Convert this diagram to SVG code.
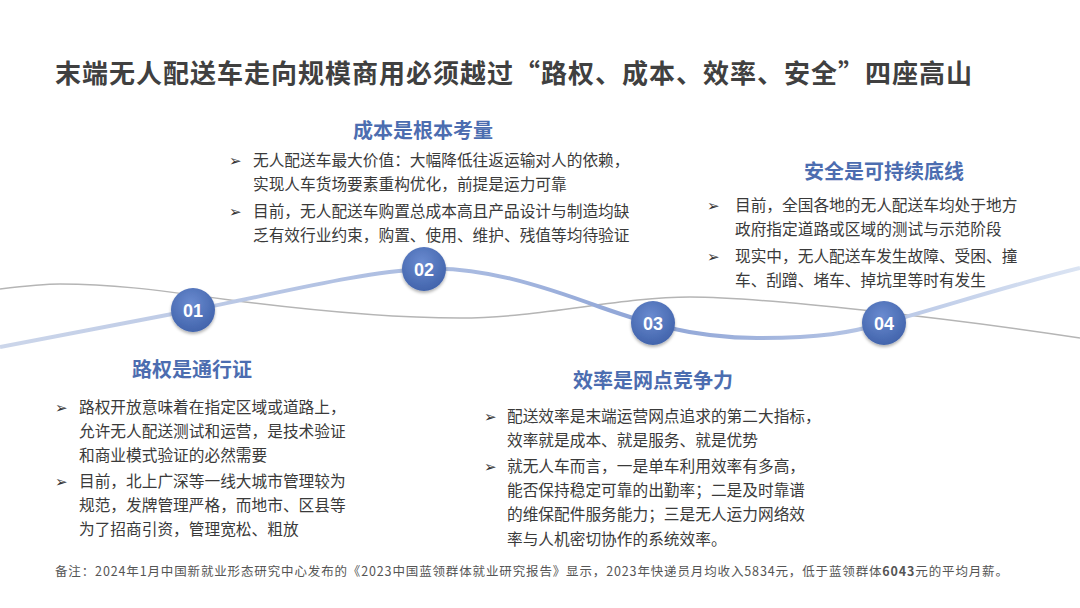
<svg xmlns="http://www.w3.org/2000/svg" width="1080" height="608" viewBox="0 0 1080 608">
<defs>
<style>
.title{font-family:"Noto Sans CJK SC","Liberation Sans",sans-serif;font-weight:bold;font-size:26px;fill:#404040}
.head{font-family:"Noto Sans CJK SC","Liberation Sans",sans-serif;font-weight:bold;font-size:20px;fill:#4c6db0;text-anchor:middle}
.body{font-family:"Noto Sans CJK SC","Liberation Sans",sans-serif;font-size:15.7px;fill:#3a3a3a}
.bul{font-family:"DejaVu Sans",sans-serif;font-size:15px;fill:#333}
.num{font-family:"Liberation Sans",Arial,sans-serif;font-weight:bold;font-size:18px;fill:#ffffff;text-anchor:middle}
.note{font-family:"Noto Sans CJK SC","Liberation Sans",sans-serif;font-size:12.5px;fill:#555555}
.circ{fill:url(#cg);filter:url(#sh)}
</style>
<radialGradient id="cg" cx="0.45" cy="0.35" r="0.7">
<stop offset="0" stop-color="#6a8bd0"/>
<stop offset="1" stop-color="#3f61a9"/>
</radialGradient>
<linearGradient id="wg" x1="0" y1="0" x2="1080" y2="0" gradientUnits="userSpaceOnUse">
<stop offset="0" stop-color="#ccd6ea"/>
<stop offset="0.45" stop-color="#a7b9e0"/>
<stop offset="0.6" stop-color="#8ea4d6"/>
<stop offset="1" stop-color="#dbe4f3"/>
</linearGradient>
<filter id="sh" x="-30%" y="-30%" width="160%" height="170%">
<feDropShadow dx="0" dy="2" stdDeviation="1.5" flood-color="#000" flood-opacity="0.3"/>
</filter>
</defs>
<rect width="1080" height="608" fill="#ffffff"/>
<text class="title" x="55" y="83" textLength="917" lengthAdjust="spacing">末端无人配送车走向规模商用必须越过“路权、成本、效率、安全”四座高山</text>

<g id="connectors">
<path d="M0,289 C25,286 45,284 60,284 C110,284 150,289 230,300 C300,309 380,318 460,318 C540,318 620,297 690,297 C760,297 950,318 1080,338" fill="none" stroke="#b5b5b5" stroke-width="1.5"/>
<path d="M0,347 C70,333 140,320 193,310 C280,293 360,272 424,269 C480,266 540,285 600,307 C640,321 690,338 757,338 C820,338 850,333 884,323 C950,305 1010,285 1080,268" fill="none" stroke="url(#wg)" stroke-width="4"/>
</g>

<g id="node01">
<circle class="circ" cx="193" cy="310" r="22"/>
<text class="num" x="193" y="316.5">01</text>
<text class="head" x="192" y="377">路权是通行证</text>
<text class="bul" x="55" y="413">➢</text>
<text class="body" x="79" y="413">路权开放意味着在指定区域或道路上，</text>
<text class="body" x="79" y="437">允许无人配送测试和运营，是技术验证</text>
<text class="body" x="79" y="461">和商业模式验证的必然需要</text>
<text class="bul" x="55" y="487">➢</text>
<text class="body" x="79" y="487">目前，北上广深等一线大城市管理较为</text>
<text class="body" x="79" y="511">规范，发牌管理严格，而地市、区县等</text>
<text class="body" x="79" y="535">为了招商引资，管理宽松、粗放</text>
</g>

<g id="node02">
<circle class="circ" cx="424" cy="269" r="22"/>
<text class="num" x="424" y="275.5">02</text>
<text class="head" x="423" y="138">成本是根本考量</text>
<text class="bul" x="229" y="166">➢</text>
<text class="body" x="253" y="166">无人配送车最大价值：大幅降低往返运输对人的依赖，</text>
<text class="body" x="253" y="190">实现人车货场要素重构优化，前提是运力可靠</text>
<text class="bul" x="229" y="217">➢</text>
<text class="body" x="253" y="217">目前，无人配送车购置总成本高且产品设计与制造均缺</text>
<text class="body" x="253" y="241">乏有效行业约束，购置、使用、维护、残值等均待验证</text>
</g>

<g id="node03">
<circle class="circ" cx="653" cy="323" r="22"/>
<text class="num" x="653" y="329.5">03</text>
<text class="head" x="653" y="388">效率是网点竞争力</text>
<text class="bul" x="484" y="422">➢</text>
<text class="body" x="507" y="422">配送效率是末端运营网点追求的第二大指标，</text>
<text class="body" x="507" y="446">效率就是成本、就是服务、就是优势</text>
<text class="bul" x="484" y="472">➢</text>
<text class="body" x="507" y="472">就无人车而言，一是单车利用效率有多高，</text>
<text class="body" x="507" y="496">能否保持稳定可靠的出勤率；二是及时靠谱</text>
<text class="body" x="507" y="520">的维保配件服务能力；三是无人运力网络效</text>
<text class="body" x="507" y="545">率与人机密切协作的系统效率。</text>
</g>

<g id="node04">
<circle class="circ" cx="884" cy="323" r="22"/>
<text class="num" x="884" y="329.5">04</text>
<text class="head" x="884" y="179">安全是可持续底线</text>
<text class="bul" x="707" y="211">➢</text>
<text class="body" x="735" y="211">目前，全国各地的无人配送车均处于地方</text>
<text class="body" x="735" y="235">政府指定道路或区域的测试与示范阶段</text>
<text class="bul" x="707" y="262">➢</text>
<text class="body" x="735" y="262">现实中，无人配送车发生故障、受困、撞</text>
<text class="body" x="735" y="286">车、刮蹭、堵车、掉坑里等时有发生</text>
</g>

<text class="note" x="55" y="576" textLength="953" lengthAdjust="spacing">备注：2024年1月中国新就业形态研究中心发布的《2023中国蓝领群体就业研究报告》显示，2023年快递员月均收入5834元，低于蓝领群体<tspan font-weight="bold">6043</tspan>元的平均月薪。</text>
</svg>
